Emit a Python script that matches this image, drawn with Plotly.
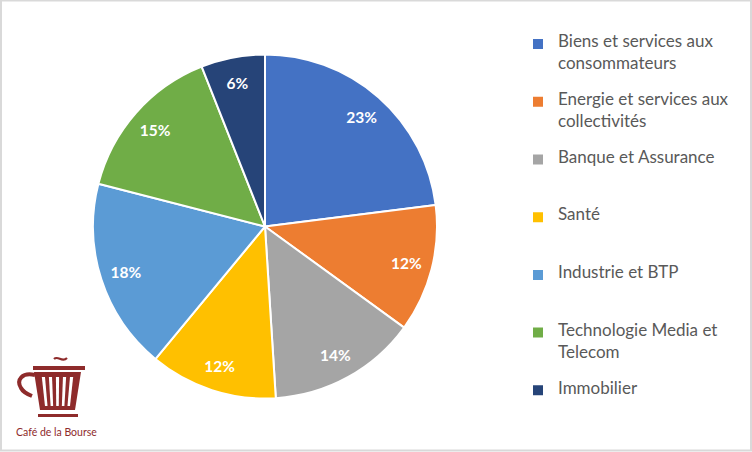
import plotly.graph_objects as go

# ---- data ----
categories = [
    "Biens et services aux consommateurs",
    "Energie et services aux collectivités",
    "Banque et Assurance",
    "Santé",
    "Industrie et BTP",
    "Technologie Media et Telecom",
    "Immobilier",
]
legend_lines = [
    ["Biens et services aux", "consommateurs"],
    ["Energie et services aux", "collectivités"],
    ["Banque et Assurance"],
    ["Santé"],
    ["Industrie et BTP"],
    ["Technologie Media et", "Telecom"],
    ["Immobilier"],
]
values = [23, 12, 14, 12, 18, 15, 6]
colors = ["#4472C4", "#ED7D31", "#A5A5A5", "#FFC000", "#5B9BD5", "#70AD47", "#264478"]

W, H = 752, 452
LOGO = "#8E2B2B"


def px(x):
    return x / W


def py(y):
    return 1 - y / H


def path(points, close=True):
    s = "M " + " L ".join(f"{px(x):.5f},{py(y):.5f}" for x, y in points)
    return s + (" Z" if close else "")


# legend labels: each entry spans 5 small "slots"; text lines sit on slots 0 and 2
def span(t):
    return f'<span style="font-size:17px">{t}</span>'


labels = []
for lines in legend_lines:
    slots = [" "] * 5
    slots[0] = span(lines[0])
    if len(lines) > 1:
        slots[2] = span(lines[1])
    labels.append("<br>".join(slots))

dom_x = [px(93), px(437)]
dom_y = [py(399), py(54)]

fig = go.Figure()
fig.add_trace(go.Pie(
    labels=labels, values=values, sort=False, direction="clockwise", rotation=0,
    marker=dict(colors=colors, line=dict(color="white", width=2)),
    textinfo="none", hoverinfo="percent",
    domain=dict(x=dom_x, y=dom_y), showlegend=True,
))
fig.add_trace(go.Pie(
    labels=labels, values=values, sort=False, direction="clockwise", rotation=0,
    hole=0.7,
    marker=dict(colors=["rgba(0,0,0,0)"] * len(values), line=dict(width=0)),
    texttemplate="%{percent:.0%}", textposition="inside", insidetextorientation="horizontal",
    textfont=dict(family="Lato", size=15.5, color="white", weight="bold"),
    hoverinfo="skip", domain=dict(x=dom_x, y=dom_y), showlegend=False,
))

shapes = []
# outer border
shapes.append(dict(type="rect", xref="paper", yref="paper", x0=px(1), y0=py(450.5), x1=px(751), y1=py(0.5),
                   line=dict(color="#D9D9D9", width=2), fillcolor="rgba(0,0,0,0)"))
# logo: steam
shapes.append(dict(type="path", xref="paper", yref="paper",
                   path=f"M {px(54):.5f},{py(359):.5f} C {px(58):.5f},{py(355):.5f} {px(62):.5f},{py(363):.5f} {px(67):.5f},{py(358):.5f}",
                   line=dict(color=LOGO, width=2.2)))
# rim
shapes.append(dict(type="rect", xref="paper", yref="paper", x0=px(33), x1=px(85), y0=py(370), y1=py(366),
                   fillcolor=LOGO, line=dict(width=0)))
# handle
shapes.append(dict(type="path", xref="paper", yref="paper",
                   path=f"M {px(35):.5f},{py(375):.5f} C {px(22):.5f},{py(372):.5f} {px(16):.5f},{py(380):.5f} {px(21):.5f},{py(388):.5f} "
                        f"C {px(23):.5f},{py(392):.5f} {px(27):.5f},{py(394):.5f} {px(32):.5f},{py(396):.5f}",
                   line=dict(color=LOGO, width=4)))
# body
shapes.append(dict(type="path", xref="paper", yref="paper",
                   path=path([(34, 372), (81, 372), (75, 410), (40, 410)]),
                   fillcolor=LOGO, line=dict(width=0)))


def body_x(frac, y):
    t = (y - 372) / (410 - 372)
    left = 34 + (40 - 34) * t
    right = 81 + (75 - 81) * t
    return left + (right - left) * frac


for i in range(5):
    c = 0.19 + 0.155 * i
    hw = 0.035
    y0, y1 = 377, 406
    pts = [(body_x(c - hw, y0), y0), (body_x(c + hw, y0), y0), (body_x(c + hw, y1), y1), (body_x(c - hw, y1), y1)]
    shapes.append(dict(type="path", xref="paper", yref="paper", path=path(pts),
                       fillcolor="white", line=dict(width=0)))
# base
shapes.append(dict(type="rect", xref="paper", yref="paper", x0=px(38), x1=px(78), y0=py(417), y1=py(414),
                   fillcolor=LOGO, line=dict(width=0)))

fig.update_layout(
    width=W, height=H,
    margin=dict(l=0, r=0, t=0, b=0),
    paper_bgcolor="white", plot_bgcolor="white",
    shapes=shapes,
    annotations=[dict(text="Café de la Bourse", xref="paper", yref="paper", x=px(56), y=py(432),
                      xanchor="center", yanchor="middle", showarrow=False,
                      font=dict(family="Lato", size=10.5, color=LOGO))],
    legend=dict(x=px(518), y=py(32), xanchor="left", yanchor="top", valign="top",
                font=dict(family="Lato", size=8.42, color="#595959"),
                bgcolor="rgba(0,0,0,0)", traceorder="normal"),
)

fig.write_html("out.html", config={"displayModeBar": False},
               post_script="document.body.style.margin='0';document.body.style.overflow='hidden';")
